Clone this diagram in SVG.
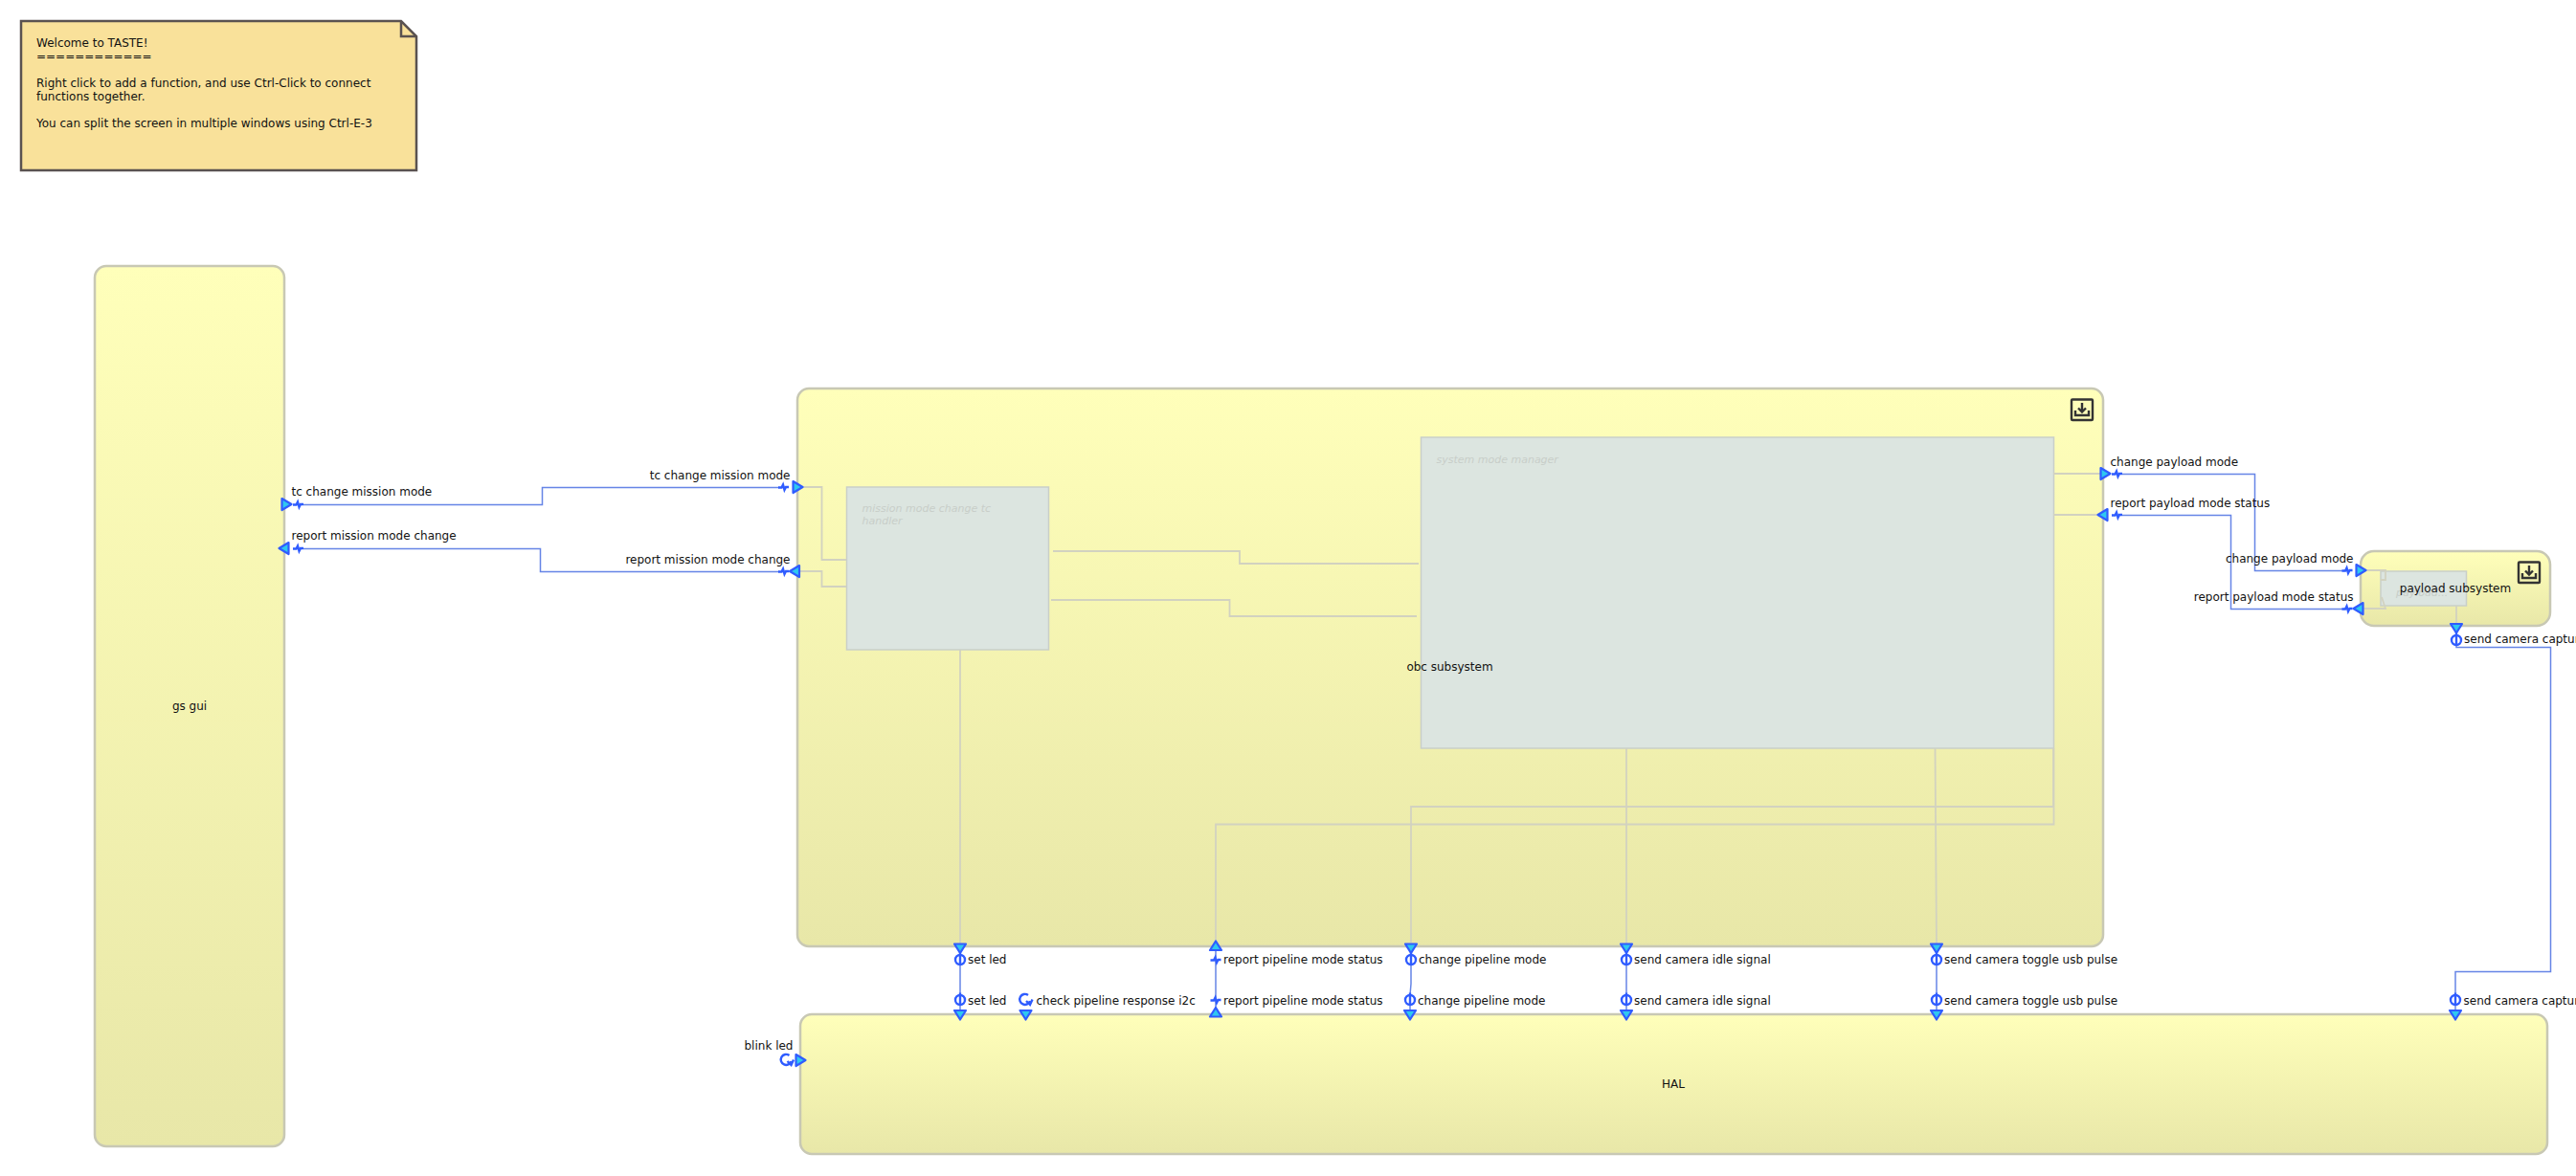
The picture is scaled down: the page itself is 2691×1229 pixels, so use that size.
<svg xmlns="http://www.w3.org/2000/svg" xmlns:xlink="http://www.w3.org/1999/xlink" width="2691" height="1229" viewBox="0 0 2691 1229">
<style>
text{font-family:"DejaVu Sans",sans-serif;font-size:12px;fill:#111}
.fn{stroke:#c8c8b4;stroke-width:2.5;fill:url(#fg)}
.inner{fill:#dce5e0;stroke:#c9cfc9;stroke-width:1.5}
text.ghost{font-style:italic;fill:#c8cec9;font-size:11px}
.c{fill:none;stroke:#6685e6;stroke-width:1.500}
.g{fill:none;stroke:#d2d2c0;stroke-width:1.800}
.tri{fill:#2fc8f0;stroke:#2f5cff;stroke-width:2.200;stroke-linejoin:round}
.gl{fill:none;stroke:#2f5cff;stroke-width:2.400}
.ic{fill:none;stroke:#333;stroke-width:2.400}
text.end{text-anchor:end}
text.mid{text-anchor:middle}
</style>
<defs>
<linearGradient id="fg" x1="0" y1="0" x2="0" y2="1"><stop offset="0" stop-color="#ffffba"/><stop offset="1" stop-color="#e8e7a8"/></linearGradient>
<polygon id="tr" class="tri" points="-5,-6 5,0 -5,6"/>
<polygon id="tl" class="tri" points="5,-6 -5,0 5,6"/>
<polygon id="td" class="tri" points="-6,-4.500 6,-4.500 0,5"/>
<polygon id="tu" class="tri" points="-6,4.500 6,4.500 0,-5"/>
<path id="bolt" class="gl" d="M-5.500,.5 H-2 L-.5,-2.500 L1,3 L2.500,0 H5.500"/>
<g id="sock"><circle class="gl" r="5"/><path class="gl" d="M0,-7.500 V5"/></g>
<g id="cyc"><path class="gl" d="M3,-5 A5.500,5.500 0 1 0 5,1"/><path class="gl" d="M1,1 L5,5 L7.500,-.5"/></g>
<g id="dl"><rect class="ic" x="-11" y="-10.500" width="22" height="21.500" rx="1"/><path class="ic" d="M0,-7 V2 M-4,-1.500 L0,2.500 L4,-1.500 M-7,1 V6 H7 V1"/></g>
</defs>
<g id="note"><path d="M22,22 H419 L435,38 V178 H22 Z" fill="#f9e19a" stroke="#5a5250" stroke-width="2.500"/><path d="M419,22 V38 H435" fill="none" stroke="#5a5250" stroke-width="2.500"/>
<text x="38" y="49">Welcome to TASTE!</text><text x="38" y="63">============</text><text x="38" y="91">Right click to add a function, and use Ctrl-Click to connect</text><text x="38" y="105">functions together.</text><text x="38" y="133">You can split the screen in multiple windows using Ctrl-E-3</text></g>
<g id="gs_gui"><rect class="fn" x="99" y="278" width="198" height="920" rx="12"/><text class="mid" x="198" y="742">gs gui</text></g>
<g id="obc_subsystem"><rect class="fn" x="833" y="406" width="1364" height="583" rx="12"/><use xlink:href="#dl" x="2175" y="428"/></g>
<g id="mission_mode_change_tc_handler"><rect class="inner" x="884.500" y="509" width="211" height="170"/><text class="ghost" x="900.500" y="535">mission mode change tc</text><text class="ghost" x="900.500" y="548">handler</text></g>
<g id="system_mode_manager"><rect class="inner" x="1484.500" y="457" width="661" height="325"/><text class="ghost" x="1500.500" y="484">system mode manager</text></g>
<g id="payload_subsystem"><rect class="fn" x="2466" y="576" width="198" height="78" rx="14"/><use xlink:href="#dl" x="2642" y="598"/><rect class="inner" x="2487" y="597" width="89.500" height="36"/><text class="ghost" x="2503" y="623">payload...</text></g>
<g id="hal"><rect class="fn" x="836" y="1060" width="1825" height="146" rx="12"/><text class="mid" x="1748" y="1137">HAL</text></g>
<g id="connectors">
<path class="g" d="M838,509 H858.500 V585 H884"/>
<path class="g" d="M835,597 H858.500 V613 H884"/>
<path class="g" d="M1100,576 H1295 V589 H1482"/>
<path class="g" d="M1098,627 H1284.500 V644 H1480"/>
<path class="g" d="M2145,495 H2194"/>
<path class="g" d="M2145,538 H2192"/>
<path class="g" d="M1003,679 V987"/>
<path class="g" d="M1474,985 V843 H2145 V782"/>
<path class="g" d="M1270,984 V861.500 H2145.500 V782"/>
<path class="g" d="M1699,782 V987"/>
<path class="g" d="M2021.500,782 L2023,987"/>
<path class="g" d="M2471,596 H2492 V606 H2487"/>
<path class="g" d="M2468,636 H2492 L2488,624"/>
<path class="g" d="M2566,633 V652"/>
<path class="c" d="M317,527.500 H566.500 V509.500 H814"/>
<path class="c" d="M317,573.500 H564.500 V597.500 H814"/>
<path class="c" d="M2217,495.500 H2355.500 V596.500 H2447"/>
<path class="c" d="M2217,538.500 H2330.500 V636.500 H2447"/>
<path class="c" d="M1003,1008 V1040"/>
<path class="c" d="M1270,993 V1053"/>
<path class="c" d="M1474,1008 V1028 L1473,1040"/>
<path class="c" d="M1699,1008 V1040"/>
<path class="c" d="M2023,1008 V1040"/>
<path class="c" d="M2566,674 V676.500 H2664.500 V1015.500 H2565 V1040"/>
<path class="c" d="M1003,1050 V1056 M1473,1050 V1056 M1699,1050 V1056 M2023,1050 V1056 M2565,1050 V1056"/>
</g>
<g id="interfaces">
<use xlink:href="#tr" x="299.500" y="527"/><use xlink:href="#bolt" x="311.500" y="527"/><text x="304.500" y="518">tc change mission mode</text>
<use xlink:href="#tr" x="833.500" y="509"/><use xlink:href="#bolt" x="818.500" y="509"/><text class="end" x="825.500" y="501">tc change mission mode</text>
<use xlink:href="#tl" x="296.500" y="573"/><use xlink:href="#bolt" x="311.500" y="573"/><text x="304.500" y="564">report mission mode change</text>
<use xlink:href="#tl" x="830" y="597"/><use xlink:href="#bolt" x="818.500" y="597"/><text class="end" x="825.500" y="589">report mission mode change</text>
<use xlink:href="#tr" x="2199.500" y="495"/><use xlink:href="#bolt" x="2211.500" y="495"/><text x="2204.500" y="487">change payload mode</text>
<use xlink:href="#tl" x="2196.500" y="538"/><use xlink:href="#bolt" x="2211.500" y="538"/><text x="2204.500" y="530">report payload mode status</text>
<use xlink:href="#tr" x="2466.500" y="596"/><use xlink:href="#bolt" x="2452" y="596"/><text class="end" x="2458.500" y="588">change payload mode</text>
<use xlink:href="#tl" x="2463.500" y="636"/><use xlink:href="#bolt" x="2452" y="636"/><text class="end" x="2458.500" y="628">report payload mode status</text>
<use xlink:href="#td" x="1003" y="991"/><use xlink:href="#sock" x="1003" y="1003"/><text x="1011" y="1007">set led</text>
<use xlink:href="#td" x="1003" y="1060.500"/><use xlink:href="#sock" x="1003" y="1045"/><text x="1011" y="1050">set led</text>
<use xlink:href="#td" x="1071.500" y="1060.500"/><use xlink:href="#cyc" x="1071" y="1045"/><text x="1082.500" y="1050">check pipeline response i2c</text>
<use xlink:href="#tu" x="1270" y="988.500"/><use xlink:href="#bolt" x="1270" y="1003"/><text x="1278" y="1007">report pipeline mode status</text>
<use xlink:href="#tu" x="1270" y="1058"/><use xlink:href="#bolt" x="1270" y="1045"/><text x="1278" y="1050">report pipeline mode status</text>
<use xlink:href="#td" x="1474" y="991"/><use xlink:href="#sock" x="1474" y="1003"/><text x="1482" y="1007">change pipeline mode</text>
<use xlink:href="#td" x="1473" y="1060.500"/><use xlink:href="#sock" x="1473" y="1045"/><text x="1481" y="1050">change pipeline mode</text>
<use xlink:href="#td" x="1699" y="991"/><use xlink:href="#sock" x="1699" y="1003"/><text x="1707" y="1007">send camera idle signal</text>
<use xlink:href="#td" x="1699" y="1060.500"/><use xlink:href="#sock" x="1699" y="1045"/><text x="1707" y="1050">send camera idle signal</text>
<use xlink:href="#td" x="2023" y="991"/><use xlink:href="#sock" x="2023" y="1003"/><text x="2031" y="1007">send camera toggle usb pulse</text>
<use xlink:href="#td" x="2023" y="1060.500"/><use xlink:href="#sock" x="2023" y="1045"/><text x="2031" y="1050">send camera toggle usb pulse</text>
<use xlink:href="#td" x="2566" y="656.500"/><use xlink:href="#sock" x="2566" y="669"/><text x="2574" y="672">send camera captur</text>
<use xlink:href="#td" x="2565" y="1060.500"/><use xlink:href="#sock" x="2565" y="1045"/><text x="2573.500" y="1050">send camera captur</text>
<use xlink:href="#tr" x="836.500" y="1108"/><use xlink:href="#cyc" x="821.500" y="1108"/><text class="end" x="828.500" y="1097">blink led</text>
</g>
<g id="labels"><text class="mid" x="1514.500" y="701">obc subsystem</text><text class="mid" x="2565" y="619">payload subsystem</text></g>
</svg>
